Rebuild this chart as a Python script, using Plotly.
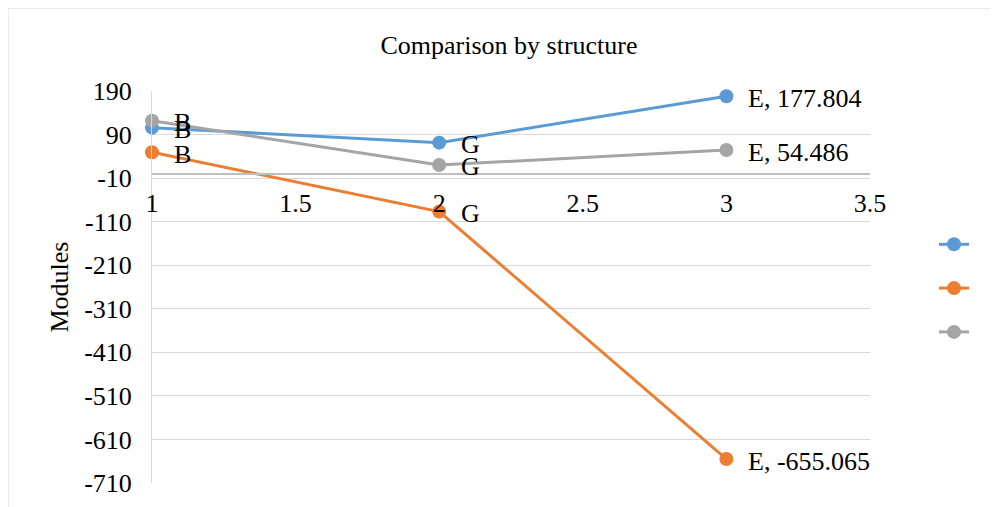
import plotly.graph_objects as go

x_values = [1, 2, 3]
point_letters = ["B", "G", "E"]
series_names = ["", "", ""]
blue_values = [105.8, 71.4, 177.804]
orange_values = [49.4, -86.9, -655.065]
gray_values = [121.9, 20.2, 54.486]
colors = ["#5B9BD5", "#ED7D31", "#A5A5A5"]

x_tick_vals = [1, 1.5, 2, 2.5, 3, 3.5]
x_tick_text = ["1", "1.5", "2", "2.5", "3", "3.5"]
y_tick_vals = [190, 90, -10, -110, -210, -310, -410, -510, -610, -710]
y_tick_text = [str(v) for v in y_tick_vals]

FONT = "Liberation Serif"
OFF = 8  # page offset of the plot div
W, H = 990, 499
ML, MT = 152 - OFF, 91 - OFF
pw, ph = 718, 392.3
MR = W - ML - pw
MB = H - MT - ph

all_series = [blue_values, orange_values, gray_values]

fig = go.Figure()
for i, vals in enumerate(all_series):
    fig.add_trace(go.Scatter(
        x=x_values, y=vals, mode="lines+markers", name=series_names[i],
        line=dict(color=colors[i], width=3),
        marker=dict(color=colors[i], size=14),
        cliponaxis=False, legendgroup=f"g{i}", showlegend=True,
    ))

annotations = []
for vals in all_series:
    for j, (xv, yv) in enumerate(zip(x_values, vals)):
        txt = point_letters[j] if j < len(x_values) - 1 else f"{point_letters[j]}, {yv}"
        annotations.append(dict(
            x=xv, y=yv, xref="x", yref="y", text=txt, showarrow=False,
            xanchor="left", yanchor="middle", xshift=20, yshift=-2,
            font=dict(family=FONT, size=26, color="black"),
        ))

def px_x(p):
    return (p - OFF - ML) / pw

def px_y(p):
    return 1 - (p - OFF - MT) / ph

shapes = [dict(type="rect", xref="paper", yref="paper",
               x0=px_x(8), x1=px_x(1200), y0=px_y(900), y1=px_y(8),
               line=dict(color="#d9d9d9", width=1), fillcolor="rgba(0,0,0,0)",
               layer="below")]

y_min, y_max = -710, 190
fig.update_layout(
    width=W, height=H,
    margin=dict(l=ML, r=MR, t=MT, b=MB, autoexpand=False),
    paper_bgcolor="white", plot_bgcolor="white",
    font=dict(family=FONT, size=26, color="black"),
    title=dict(text="Comparison by structure", x=(509 - OFF) / W, xanchor="center",
               y=1 - (45 - OFF) / H, yanchor="middle",
               font=dict(family=FONT, size=26, color="black")),
    xaxis=dict(range=[1, 3.5], tickvals=x_tick_vals, ticktext=x_tick_text,
               showgrid=False, zeroline=False, showline=True,
               linecolor="#bfbfbf", linewidth=2,
               anchor="free", position=(0 - y_min) / (y_max - y_min),
               ticks="outside", ticklen=6, tickcolor="rgba(0,0,0,0)",
               tickfont=dict(family=FONT, size=26, color="black")),
    yaxis=dict(range=[y_min, y_max], tickvals=y_tick_vals, ticktext=y_tick_text,
               showgrid=True, gridcolor="#d9d9d9", gridwidth=1,
               zeroline=False, showline=True, linecolor="#d9d9d9", linewidth=1,
               ticks="outside", ticklen=14, tickcolor="rgba(0,0,0,0)",
               tickfont=dict(family=FONT, size=26, color="black"),
               title=dict(text="Modules", standoff=8,
                          font=dict(family=FONT, size=26, color="black"))),
    legend=dict(x=px_x(934), y=px_y(221), xanchor="left", yanchor="top",
                tracegroupgap=7, bgcolor="rgba(0,0,0,0)",
                font=dict(family=FONT, size=26)),
    annotations=annotations,
    shapes=shapes,
)

fig.write_html("out.html")
